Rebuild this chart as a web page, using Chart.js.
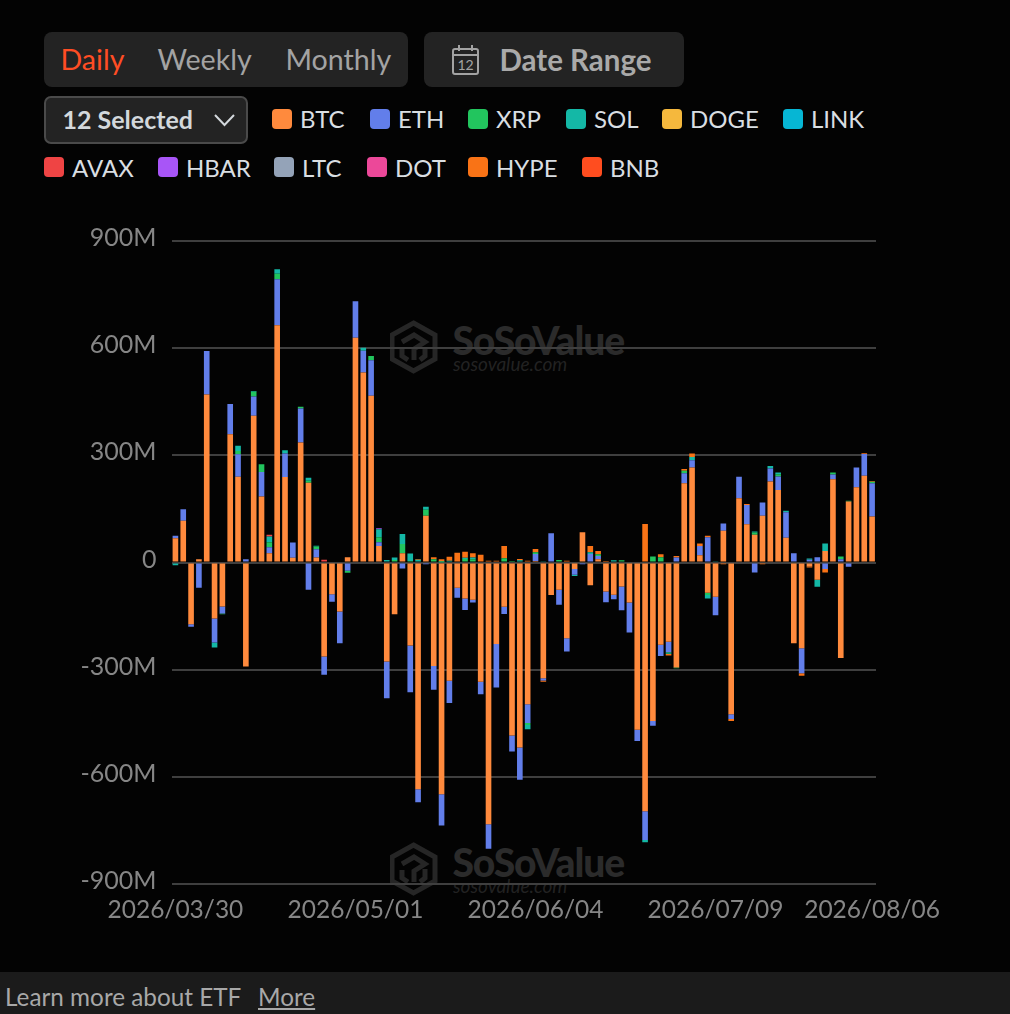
<!DOCTYPE html>
<html><head><meta charset="utf-8">
<script src="https://cdn.jsdelivr.net/npm/chart.js@4"></script>
<style>
*{box-sizing:border-box}
html,body{margin:0;padding:0;width:1010px;height:1014px;background:#030303;overflow:hidden;font-family:Lato,sans-serif}
.abs{position:absolute}
.box{background:#232323;border-radius:8px}
.tab{position:absolute;top:58.5px;transform:translateY(-50%);font-size:28.6px;color:#a3a3a3;white-space:nowrap}
#sel{left:44px;top:96px;width:204px;height:48px;background:#232323;border:2px solid #4a4a4a;border-radius:7px}
.li{position:absolute;display:flex;align-items:center;height:28px;font-size:24px;color:#d9dee2;white-space:nowrap}
.sw{width:20px;height:20px;border-radius:4px;margin-right:8px;flex:none}
.wm{position:absolute;left:390px;width:260px;height:60px}
.wm .a{position:absolute;left:62.5px;top:0;font-size:39px;font-weight:900;color:#2b2b2b;letter-spacing:-1.1px;line-height:40px}
.wm .b{position:absolute;left:63px;top:34px;font-size:19px;font-style:italic;color:#222;line-height:20px}
#wrap{position:absolute;left:0;top:220px;width:1010px;height:720px}
#foot{left:0;top:972px;width:1010px;height:42px;background:#1b1b1b;color:#a8a8a8;font-size:24.3px}
</style></head><body>
<div class="abs box" style="left:44px;top:32px;width:364px;height:55px"></div>
<div class="tab" style="left:60.5px;color:#ff4d24">Daily</div>
<div class="tab" style="left:157.5px">Weekly</div>
<div class="tab" style="left:285.5px">Monthly</div>
<div class="abs box" style="left:424px;top:32px;width:260px;height:55px"></div>
<svg class="abs" style="left:451px;top:44px" width="29" height="31" viewBox="0 0 29 31">
<rect x="2" y="5" width="25" height="25" rx="2" fill="none" stroke="#a3a3a3" stroke-width="2"/>
<line x1="2" y1="11" x2="27" y2="11" stroke="#a3a3a3" stroke-width="2"/>
<line x1="8" y1="1" x2="8" y2="7" stroke="#a3a3a3" stroke-width="2"/>
<line x1="21" y1="1" x2="21" y2="7" stroke="#a3a3a3" stroke-width="2"/>
<text x="14.5" y="26" font-size="14" fill="#a3a3a3" text-anchor="middle" font-family="Lato">12</text></svg>
<div class="tab" style="left:499.5px;font-weight:700;font-size:29.5px;color:#a9a9a9">Date Range</div>
<div class="abs" id="sel"></div>
<div class="tab" style="left:62.5px;top:119px;font-weight:700;font-size:25px;color:#d3d8dc">12 Selected</div>
<svg class="abs" style="left:213px;top:113px" width="23" height="14" viewBox="0 0 23 14"><polyline points="2,2 11.5,12 21,2" fill="none" stroke="#d3d8dc" stroke-width="2"/></svg>
<div id="legendRoot"></div>

<div class="wm" style="top:320px"><svg width="48" height="54" viewBox="0 0 48 54" class="abs" style="left:0;top:0"><g fill="none" stroke="#262626" stroke-width="5"><polygon points="23.5,3 45,15 45,39 23.5,51 2,39 2,15"/><path d="M12 22 L24 15 L35 22 L24 29 L24 40 M35 27 L35 36 L30 40 M12 28 L12 36 L18 40"/></g></svg><div class="a">SoSoValue</div><div class="b">sosovalue.com</div></div>
<div class="wm" style="top:842px"><svg width="48" height="54" viewBox="0 0 48 54" class="abs" style="left:0;top:0"><g fill="none" stroke="#262626" stroke-width="5"><polygon points="23.5,3 45,15 45,39 23.5,51 2,39 2,15"/><path d="M12 22 L24 15 L35 22 L24 29 L24 40 M35 27 L35 36 L30 40 M12 28 L12 36 L18 40"/></g></svg><div class="a">SoSoValue</div><div class="b">sosovalue.com</div></div>

<div id="wrap"><canvas id="c"></canvas></div>
<div class="abs" id="foot"><span class="abs" style="left:5px;top:10px;white-space:nowrap">Learn more about ETF</span><span class="abs" style="left:258px;top:10px;text-decoration:underline">More</span></div>
<script>
const categories = ["2026/03/30","2026/03/31","2026/04/01","2026/04/02","2026/04/06","2026/04/07","2026/04/08","2026/04/09","2026/04/10",
"2026/04/13","2026/04/14","2026/04/15","2026/04/16","2026/04/17","2026/04/20","2026/04/21","2026/04/22","2026/04/23","2026/04/24",
"2026/04/27","2026/04/28","2026/04/29","2026/04/30","2026/05/01","2026/05/04","2026/05/05","2026/05/06","2026/05/07","2026/05/08",
"2026/05/11","2026/05/12","2026/05/13","2026/05/14","2026/05/15","2026/05/18","2026/05/19","2026/05/20","2026/05/21","2026/05/22",
"2026/05/26","2026/05/27","2026/05/28","2026/05/29","2026/06/01","2026/06/02","2026/06/03","2026/06/04","2026/06/05",
"2026/06/08","2026/06/09","2026/06/10","2026/06/11","2026/06/12","2026/06/15","2026/06/16","2026/06/17","2026/06/18",
"2026/06/22","2026/06/23","2026/06/24","2026/06/25","2026/06/26","2026/06/29","2026/06/30","2026/07/01","2026/07/02",
"2026/07/06","2026/07/07","2026/07/08","2026/07/09","2026/07/10","2026/07/13","2026/07/14","2026/07/15","2026/07/16","2026/07/17",
"2026/07/20","2026/07/21","2026/07/22","2026/07/23","2026/07/24","2026/07/27","2026/07/28","2026/07/29","2026/07/30","2026/07/31",
"2026/08/03","2026/08/04","2026/08/05","2026/08/06"];
const xTickLabels = ["2026/03/30","2026/05/01","2026/06/04","2026/07/09","2026/08/06"];
const yTicks = [900,600,300,0,-300,-600,-900];

const BTC = [68,117,-173,9,470,-157,-123,359,240,-291,
411,185,26,664,239,13,336,223,14,-263,
-89,-137,15,629,532,467,46,-277,-145,26,
-232,-635,131,-290,-649,-331,-71,-101,-104,-334,
-733,-228,-124,-484,-518,-397,4,-324,-91,-76,
-212,-18,85,-64,9,-81,-90,-67,-112,-468,
-696,-444,-230,-222,-294,222,266,20,-85,-96,
89,-425,180,107,78,131,227,203,69,-226,
-240,-11,-48,32,233,-267,171,211,243,129];
const ETH = [7,32,-7,-71,122,-67,-20,85,63,9,
54,68,17,129,66,43,95,-76,23,-51,
-21,-89,-23,102,61,99,11,-103,0,-17,
-131,-36,-5,-66,-87,-62,-28,-32,-8,-35,
-68,-122,-20,-45,-90,-52,20,-6,82,-42,
-37,-16,-5,24,9,-30,-13,-67,-84,-32,
-81,-13,-32,-29,14,28,20,26,71,-52,
20,-13,60,54,-28,37,36,38,72,26,
-70,8,15,-18,13,9,-12,55,61,93];
const XRP = [0,0,0,0,0,3,-2,0,9,0,
13,22,14,15,0,0,5,6,8,0,
3,3,-6,0,0,12,14,0,7,26,
4,0,17,9,1,0,0,10,9,0,
0,0,12,4,0,-6,5,0,0,7,
0,0,0,0,5,0,0,6,0,0,
0,17,15,-3,-2,7,0,0,-6,0,
0,0,0,0,6,0,0,6,0,0,
0,0,0,0,6,8,2,0,-3,4];
const SOL = [-8,0,0,0,0,-14,0,0,15,0,
2,0,16,13,9,0,0,8,2,0,
0,0,0,0,8,0,22,7,7,28,
21,8,8,0,2,5,0,3,5,0,
0,0,0,0,6,-12,0,2,0,0,
0,-4,0,5,0,0,6,0,0,0,
-6,0,0,-2,0,0,9,0,-10,2,
0,0,0,0,3,0,7,5,4,0,
0,3,-20,21,0,0,0,0,0,0];
const DOGE = [];
const LINK = [];
const AVAX = [0,0,0,0,0,0,0,0,0,0,
0,0,5,0,0,0,0,0,0,8];
const HBAR = [0,0,0,0,0,0,0,0,0,0,
0,0,0,0,0,0,0,0,0,0,
0,0,0,0,0,0,3];
const LTC = [];
const DOT = [];
const HYPE = [0,0,0,0,0,0,0,0,0,0,
0,0,0,0,0,0,0,0,0,0,
0,0,0,0,0,0,0,0,0,0,
0,2,0,6,6,11,27,17,12,22,
5,5,34,0,4,5,9,-4,0,0,
5,0,0,17,9,4,0,0,0,0,
108,0,8,-4,4,5,10,7,4,0,
-5,-6,0,3,0,-5,0,0,0,0,
-7,-3,0,-10,0,0,0,0,2,2];
const BNB = [];

const seriesNames = ["BTC","ETH","XRP","SOL","DOGE","LINK","AVAX","HBAR","LTC","DOT","HYPE","BNB"];
const seriesValues = [BTC,ETH,XRP,SOL,DOGE,LINK,AVAX,HBAR,LTC,DOT,HYPE,BNB];
const seriesColors = ["#FF8A3D","#627EEA","#22C55E","#14B8A6","#F5B83D","#06B6D4","#EF4444","#A855F7","#94A3B8","#EC4899","#F97316","#FF4D1F"];

const legendPos = [[272,118.5],[370,118.5],[468,118.5],[566,118.5],[662,118.5],[783,118.5],[44,167],[158,167],[274,167],[367,167],[468,167],[582,167]];
const root = document.getElementById('legendRoot');
seriesNames.forEach((n,i)=>{
  const d = document.createElement('div'); d.className='li';
  d.style.left = legendPos[i][0]+'px'; d.style.top = (legendPos[i][1]-14)+'px';
  d.innerHTML = '<span class="sw" style="background:'+seriesColors[i]+'"></span>'+n;
  root.appendChild(d);
});

new Chart(document.getElementById('c'),{
  type:'bar',
  data:{labels:categories,datasets:seriesNames.map((n,i)=>({
    label:n,data:seriesValues[i],backgroundColor:seriesColors[i],borderWidth:0,
    categoryPercentage:1,barPercentage:0.72,stack:'flow'}))},
  options:{
    responsive:true,maintainAspectRatio:false,animation:false,
    layout:{padding:{top:20.5,right:134,left:0,bottom:0}},
    plugins:{legend:{display:false},tooltip:{enabled:false}},
    scales:{
      x:{stacked:true,
        grid:{display:false},border:{display:false},
        afterFit(s){s.height=56;},
        ticks:{autoSkip:false,maxRotation:0,minRotation:0,padding:3,color:'#868686',font:{family:'Lato',size:24.5},
          callback(v){const l=this.getLabelForValue(v);return xTickLabels.includes(l)?l:'';}}},
      y:{stacked:true,min:-900,max:900,
        afterFit(s){s.width=171.5;},
        afterBuildTicks(s){s.ticks=yTicks.map(v=>({value:v}));},
        grid:{color:'#3f3f3f',lineWidth:2,drawTicks:false},border:{display:false},
        ticks:{padding:15,color:'#868686',font:{family:'Lato',size:25,lineHeight:0.24},
          callback(v){return [v===0?'0':v+'M',''];}}}
    }
  }
});
</script>
</body></html>
